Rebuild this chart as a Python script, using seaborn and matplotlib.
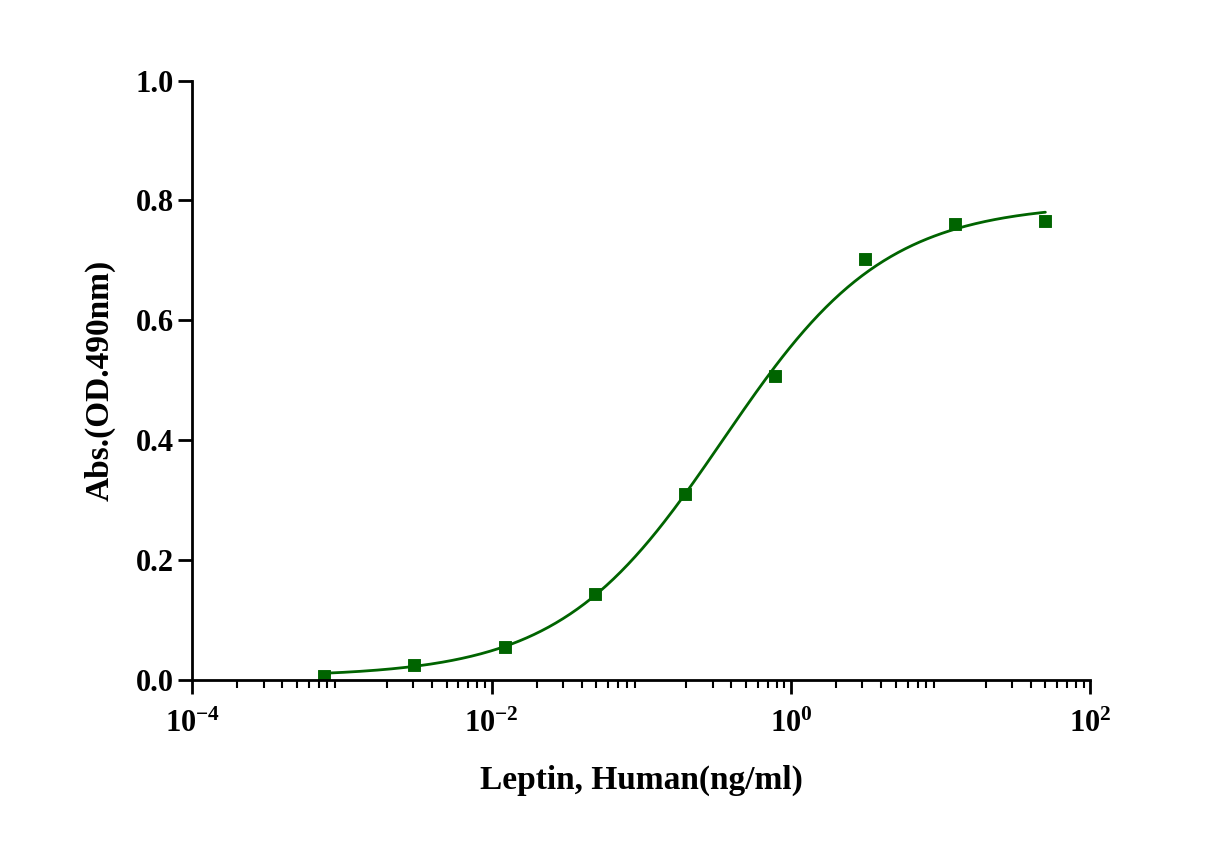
import numpy as np
import pandas as pd
import matplotlib.pyplot as plt
import seaborn as sns
from matplotlib.ticker import LogLocator, FixedLocator

# data
conc = [0.00076, 0.00305, 0.0122, 0.0488, 0.195, 0.78, 3.125, 12.5, 50.0]
od = [0.006, 0.025, 0.055, 0.143, 0.310, 0.507, 0.703, 0.760, 0.765]

# estimated 4PL fit parameters
bottom, top, ec50, hill = 0.005, 0.795, 0.35, 0.8

sns.set_style('ticks')
plt.rcParams.update({
    'font.family': 'Liberation Serif',
    'font.weight': 'bold',
    'mathtext.fontset': 'custom',
    'mathtext.rm': 'Liberation Serif:bold',
    'mathtext.bf': 'Liberation Serif:bold',
    'mathtext.it': 'Liberation Serif:bold',
    'text.color': 'black',
    'axes.labelcolor': 'black',
    'xtick.color': 'black',
    'ytick.color': 'black',
    'axes.edgecolor': 'black',
})

fig = plt.figure(figsize=(12.17, 8.67), dpi=100)
ax = fig.add_axes([0.158, 0.216, 0.738, 0.691])

xs = np.logspace(np.log10(conc[0]), np.log10(conc[-1]), 300)
ys = bottom + (top - bottom) / (1 + (ec50 / xs) ** hill)
sns.lineplot(x=xs, y=ys, ax=ax, color='#006400', linewidth=2)
sns.scatterplot(data=pd.DataFrame({'x': conc, 'y': od}), x='x', y='y', ax=ax,
                marker='s', s=65, color='#006400', edgecolor='#006400')

ax.set_xscale('log')
ax.set_xlim(1e-4, 1e2)
ax.set_ylim(0, 1.0)
ax.xaxis.set_major_locator(FixedLocator([1e-4, 1e-2, 1e0, 1e2]))
ax.xaxis.set_minor_locator(LogLocator(base=10, subs=np.arange(2, 10), numticks=20))
ax.set_xticklabels([r'$10^{-4}$', r'$10^{-2}$', r'$10^{0}$', r'$10^{2}$'])
ax.set_yticks([0, 0.2, 0.4, 0.6, 0.8, 1.0])
ax.set_yticklabels(['0.0', '0.2', '0.4', '0.6', '0.8', '1.0'])
ax.tick_params(axis='both', labelsize=22, width=2, length=10, direction='out')
ax.tick_params(axis='x', which='minor', width=1.5, length=6)
ax.tick_params(axis='x', pad=12)
for s in ['left', 'bottom']:
    ax.spines[s].set_linewidth(2)
sns.despine(ax=ax)
ax.set_xlabel('Leptin, Human(ng/ml)', fontsize=24, fontweight='bold', labelpad=18)
ax.set_ylabel('Abs.(OD.490nm)', fontsize=24, fontweight='bold', labelpad=14)

fig.savefig('out.png', dpi=100)
